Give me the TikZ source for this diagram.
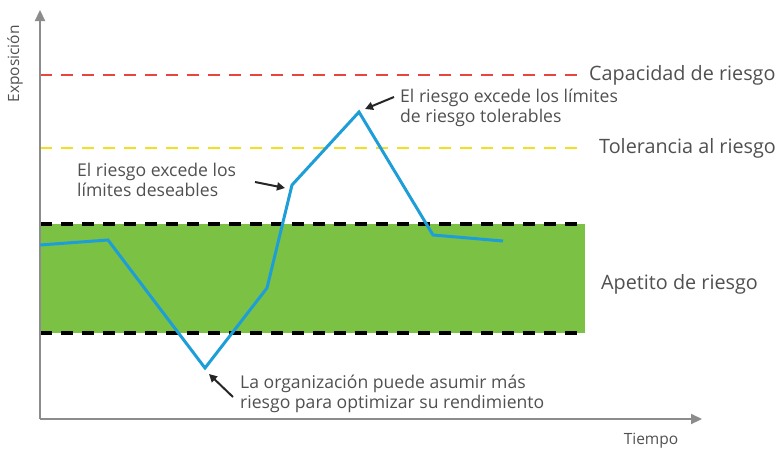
\documentclass[tikz,border=0pt]{standalone}
\usepackage{fontspec}
\setmainfont{Open Sans}
\usetikzlibrary{arrows.meta}
\definecolor{axisgray}{HTML}{8C8C8C}
\definecolor{txtgray}{HTML}{505050}
\definecolor{capred}{HTML}{E8453C}
\definecolor{tolyellow}{HTML}{F0E01E}
\definecolor{appgreen}{HTML}{7BC143}
\definecolor{riskblue}{HTML}{1E9ED8}
\tikzset{
  axisline/.style={draw=axisgray, line width=2.2pt, -{Triangle[length=11pt,width=10pt]}},
  limitline/.style={line width=2.6pt, dash pattern=on 12pt off 9pt},
  bandline/.style={line width=3.4pt, dash pattern=on 12pt off 9pt, black},
  lbl/.style={text=txtgray, font=\fontsize{19.8}{23}\selectfont, anchor=west, inner sep=0pt},
  note/.style={text=txtgray, font=\fontsize{17.6}{20}\selectfont, align=left, anchor=west, inner sep=0pt},
  pointer/.style={draw=black!85, line width=2pt, -{Triangle[length=8pt,width=8pt]}},
  riskline/.style={draw=riskblue, line width=3pt, line join=miter},
}
\begin{document}
\begin{tikzpicture}[x=1pt,y=-1pt]
\useasboundingbox (0,0) rectangle (782,450);
% green band
\fill[appgreen] (40,224) rectangle (585,333);
\draw[bandline] (40,224) -- (585,224);
\draw[bandline] (40,333) -- (585,333);
% capacity and tolerance
\draw[limitline, capred] (40,75) -- (585,75);
\draw[limitline, tolyellow] (40,148) -- (585,148);
% axes
\coordinate (origin) at (40,419);
\coordinate (ytop) at (40,10);
\coordinate (xend) at (702,419);
\draw[axisline] (origin) -- (ytop);
\draw[axisline] (origin) -- (xend);
\node[text=txtgray, font=\fontsize{15.5}{18}\selectfont, rotate=90, inner sep=0pt] (ylab) at (15,64) {Exposición};
\node[text=txtgray, font=\fontsize{15.5}{18}\selectfont, inner sep=0pt] (xlab) at (651,441) {Tiempo};
% risk curve
\coordinate (p0) at (40,245);
\coordinate (p1) at (108,240);
\coordinate (p2) at (205,368);
\coordinate (p3) at (267,288);
\coordinate (p4) at (292,185);
\coordinate (p5) at (359,112);
\coordinate (p6) at (433,235);
\coordinate (p7) at (503,241);
\draw[riskline] (p0) -- (p1) -- (p2) -- (p3) -- (p4) -- (p5) -- (p6) -- (p7);
% labels on the right
\node[lbl] (cap) at (589,75) {Capacidad de riesgo};
\node[lbl] (tol) at (599,148) {Tolerancia al riesgo};
\node[lbl] (app) at (601,284) {Apetito de riesgo};
% annotations
\node[note] (n1) at (77,180) {El riesgo excede los\\límites deseables};
\node[note] (n2) at (400,108) {El riesgo excede los límites\\de riesgo tolerables};
\node[note] (n3) at (240,394) {La organización puede asumir más\\riesgo para optimizar su rendimiento};
\coordinate (a1s) at (255,182);
\coordinate (a1e) at (285,188);
\coordinate (a2s) at (394,97);
\coordinate (a2e) at (365,109);
\coordinate (a3s) at (233,397);
\coordinate (a3e) at (209,374);
\draw[pointer] (a1s) -- (a1e);
\draw[pointer] (a2s) -- (a2e);
\draw[pointer] (a3s) -- (a3e);
\end{tikzpicture}
\end{document}
